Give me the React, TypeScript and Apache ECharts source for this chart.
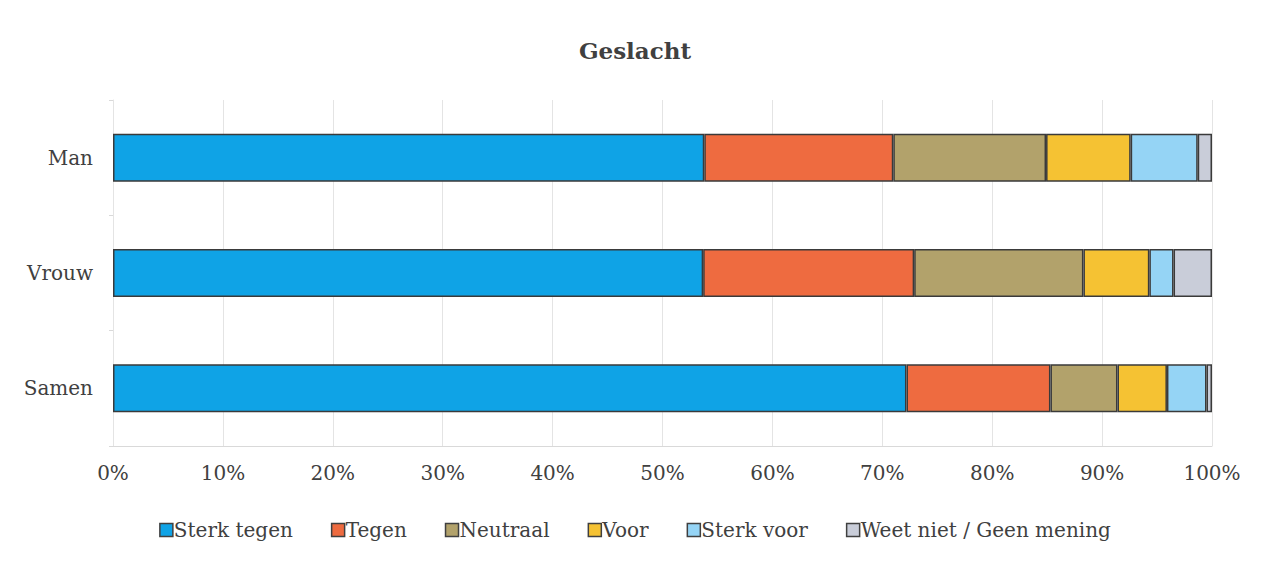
import React, { useEffect, useRef } from "react";
import * as echarts from "echarts";

const categories = ["Man", "Vrouw", "Samen"];
const seriesNames = ["Sterk tegen", "Tegen", "Neutraal", "Voor", "Sterk voor", "Weet niet / Geen mening"];
const sterkTegen = [53.8, 53.7, 72.2];
const tegen = [17.2, 19.2, 13.1];
const neutraal = [13.9, 15.4, 6.1];
const voor = [7.7, 6.0, 4.5];
const sterkVoor = [6.1, 2.2, 3.6];
const weetNiet = [1.3, 3.5, 0.5];
const colors = ["#0FA3E6", "#EE6B40", "#B2A26B", "#F5C233", "#95D4F5", "#C9CDD9"];

const FONT = "'DejaVu Serif', 'Liberation Serif', serif";

export default function App() {
  const ref = useRef<HTMLDivElement>(null);
  useEffect(() => {
    const chart = echarts.init(ref.current!, null, { renderer: "svg" });
    const values = [sterkTegen, tegen, neutraal, voor, sterkVoor, weetNiet];
    chart.setOption({
      animation: false,
      backgroundColor: "#ffffff",
      title: {
        text: "Geslacht",
        left: "center",
        top: 34,
        textStyle: { fontFamily: FONT, fontSize: 23, fontWeight: "bold", color: "#404040" },
      },
      legend: {
        bottom: 21,
        left: "center",
        itemWidth: 13,
        itemHeight: 13,
        itemGap: 38,
        icon: "rect",
        textStyle: { fontFamily: FONT, fontSize: 20, color: "#404040", padding: [0, 0, 0, -4] },
        data: seriesNames.map((n) => ({ name: n, itemStyle: { borderColor: "#404040", borderWidth: 1.5 } })),
      },
      grid: { left: 113, right: 58, top: 100, bottom: 120 },
      xAxis: {
        type: "value",
        min: 0,
        max: 100,
        interval: 10,
        axisLabel: { formatter: "{value}%", fontFamily: FONT, fontSize: 20, color: "#404040", margin: 17 },
        splitLine: { show: true, lineStyle: { color: "#e4e4e4", width: 1 } },
        axisLine: { show: true, lineStyle: { color: "#d9d9d9" } },
        axisTick: { show: false },
      },
      yAxis: {
        type: "category",
        data: categories,
        inverse: true,
        axisLabel: { fontFamily: FONT, fontSize: 20, color: "#404040", margin: 20 },
        axisLine: { show: true, lineStyle: { color: "#e4e4e4" } },
        axisTick: { show: true, length: 4, lineStyle: { color: "#d9d9d9" } },
      },
      series: seriesNames.map((name, i) => ({
        name,
        type: "bar",
        stack: "total",
        barWidth: 48,
        data: values[i],
        itemStyle: { color: colors[i], borderColor: "#3a3a3a", borderWidth: 1.5 },
      })),
    });
    return () => chart.dispose();
  }, []);
  return <div ref={ref} style={{ position: "fixed", left: 0, top: 0, width: 1270, height: 566 }} />;
}
